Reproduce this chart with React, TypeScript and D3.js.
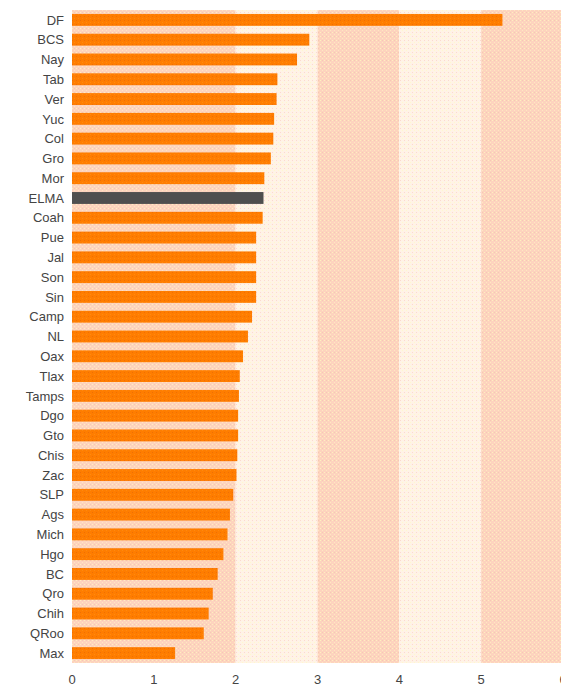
import React from "react";
import * as d3 from "d3";

const categories = ["DF","BCS","Nay","Tab","Ver","Yuc","Col","Gro","Mor","ELMA","Coah","Pue","Jal","Son","Sin","Camp","NL","Oax","Tlax","Tamps","Dgo","Gto","Chis","Zac","SLP","Ags","Mich","Hgo","BC","Qro","Chih","QRoo","Max"];
const values = [5.26,2.90,2.75,2.51,2.50,2.47,2.46,2.43,2.35,2.34,2.33,2.25,2.25,2.25,2.25,2.20,2.15,2.09,2.05,2.04,2.03,2.03,2.02,2.01,1.97,1.93,1.90,1.85,1.78,1.72,1.67,1.61,1.26];
const highlight = "ELMA";
const xTicks = [0,1,2,3,4,5,6];
const bands = [[0,2,"dark"],[2,3,"light"],[3,4,"dark"],[4,5,"light"],[5,6,"dark"]] as [number,number,string][];

export default function App() {
  const W = 561, H = 688;
  const x = d3.scaleLinear().domain([0, 6]).range([72, 563]);
  const y = d3.scaleBand().domain(categories).range([10, 663]).paddingInner(0.4).paddingOuter(0.2);
  const top = 10, bottom = 663;
  return (
    <svg width={W} height={H} style={{ position: "absolute", left: 0, top: 0, background: "#fff" }}>
      <defs>
        <pattern id="pDark" width="4" height="4" patternUnits="userSpaceOnUse">
          <rect width="4" height="4" fill="#FDD3BE" />
          <rect x="0" y="0" width="1" height="1" fill="#FFF0BE" />
          <rect x="2" y="2" width="1" height="1" fill="#FFE8C0" />
          <rect x="2" y="0" width="1" height="1" fill="#F6C8B4" />
        </pattern>
        <pattern id="pLight" width="4" height="4" patternUnits="userSpaceOnUse">
          <rect width="4" height="4" fill="#FFF3E6" />
          <rect x="0" y="0" width="1" height="1" fill="#FCD8D0" />
          <rect x="2" y="2" width="1" height="1" fill="#FFFACC" />
        </pattern>
        <pattern id="pBar" width="4" height="4" patternUnits="userSpaceOnUse">
          <rect width="4" height="4" fill="#FF7D00" />
          <rect x="0" y="0" width="1" height="1" fill="#EE6F05" />
          <rect x="2" y="2" width="1" height="1" fill="#FF8A10" />
        </pattern>
      </defs>
      {bands.map(([a, b, k], i) => (
        <rect key={i} x={x(a)} y={top} width={x(b) - x(a)} height={bottom - top}
          fill={k === "dark" ? "url(#pDark)" : "url(#pLight)"} />
      ))}
      {categories.map((c, i) => (
        <g key={c}>
          <rect x={x(0)} y={y(c)!} width={x(values[i]) - x(0)} height={y.bandwidth()}
            fill={c === highlight ? "#4F4F4F" : "url(#pBar)"} />
          <text x={64} y={y(c)! + y.bandwidth() / 2} dy="0.36em" textAnchor="end"
            fontFamily="'Liberation Sans', Arial, sans-serif" fontSize={13} fill="#444">{c}</text>
        </g>
      ))}
      {xTicks.map(t => (
        <text key={t} x={x(t)} y={684} textAnchor="middle"
          fontFamily="'Liberation Sans', Arial, sans-serif" fontSize={13} fill="#444">{t}</text>
      ))}
    </svg>
  );
}
